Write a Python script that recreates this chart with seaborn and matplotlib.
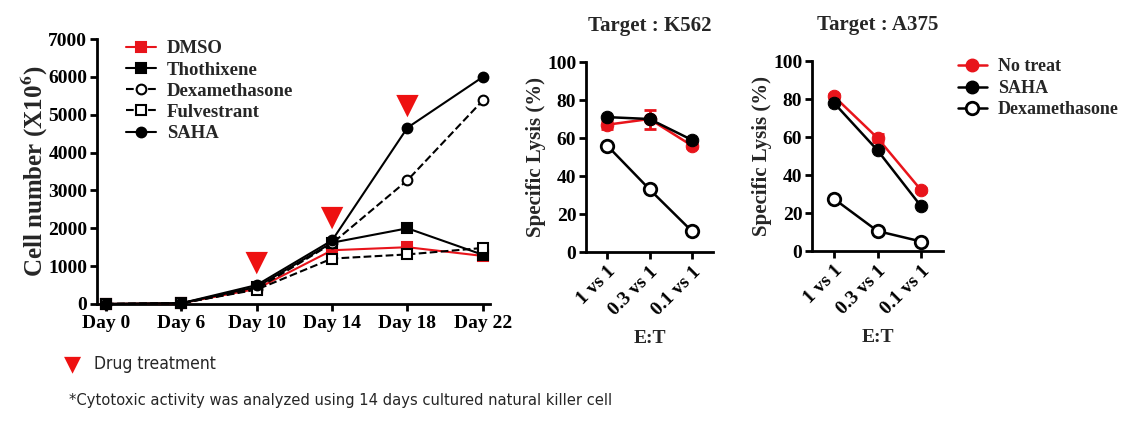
import matplotlib
matplotlib.use("Agg")
import matplotlib.pyplot as plt
import seaborn as sns
import numpy as np
from matplotlib.lines import Line2D

# ---------------- data ----------------
days = ["Day 0", "Day 6", "Day 10", "Day 14", "Day 18", "Day 22"]
dmso = [0, 20, 400, 1420, 1500, 1270]
thothixene = [0, 20, 450, 1620, 2000, 1300]
dexamethasone = [0, 20, 400, 1600, 3270, 5380]
fulvestrant = [0, 20, 380, 1200, 1310, 1480]
saha = [0, 20, 500, 1680, 4660, 6000]
treat_days = ["Day 10", "Day 14", "Day 18"]
treat_marks = [1080, 2270, 5230]

et_ratios = ["1 vs 1", "0.3 vs 1", "0.1 vs 1"]
k562_no_treat = [67, 70, 56]
k562_no_treat_err = [2, 5, 1.5]
k562_saha = [71, 70, 59]
k562_dex = [56, 33, 11]
a375_no_treat = [81.5, 59.5, 32]
a375_no_treat_err = [1, 2, 1]
a375_saha = [78, 53, 23.5]
a375_dex = [27.5, 10.5, 5]

sns.set_theme(style="ticks")
plt.rcParams["font.family"] = ["Liberation Serif", "DejaVu Serif"]
plt.rcParams["font.weight"] = "bold"
plt.rcParams["mathtext.fontset"] = "stix"
plt.rcParams["axes.linewidth"] = 2
plt.rcParams["xtick.major.width"] = 2
plt.rcParams["ytick.major.width"] = 2
plt.rcParams["xtick.major.size"] = 5
plt.rcParams["ytick.major.size"] = 5
plt.rcParams["xtick.major.pad"] = 3
plt.rcParams["ytick.major.pad"] = 2
plt.rcParams["xtick.color"] = "black"
plt.rcParams["ytick.color"] = "black"
plt.rcParams["axes.edgecolor"] = "black"

fig = plt.figure(figsize=(11.25, 4.21), dpi=100)

# ---------------- left panel ----------------
ax1 = fig.add_axes([0.0862, 0.278, 0.349, 0.629])
xi = np.arange(len(days))
series = [
    ("DMSO", dmso, dict(color="#e8141b", marker="s", ls="-", mfc="#e8141b")),
    ("Thothixene", thothixene, dict(color="black", marker="s", ls="-", mfc="black")),
    ("Dexamethasone", dexamethasone, dict(color="black", marker="o", ls="--", mfc="white")),
    ("Fulvestrant", fulvestrant, dict(color="black", marker="s", ls="--", mfc="white")),
    ("SAHA", saha, dict(color="black", marker="o", ls="-", mfc="black")),
]
handles = []
for name, vals, st in series:
    sns.lineplot(x=xi, y=vals, ax=ax1, color=st["color"], marker=st["marker"],
                 linestyle=st["ls"], markerfacecolor=st["mfc"], markeredgecolor=st["color"],
                 markersize=7, markeredgewidth=1.5, linewidth=1.5, clip_on=False, zorder=3)
    handles.append(Line2D([0], [0], color=st["color"], marker=st["marker"], linestyle=st["ls"],
                          markerfacecolor=st["mfc"], markeredgecolor=st["color"],
                          markersize=7, markeredgewidth=1.5, linewidth=1.5))
tx = [days.index(d) for d in treat_days]
sns.scatterplot(x=tx, y=treat_marks, ax=ax1, marker="v", color="#ee1111", s=260,
                edgecolor="none", zorder=4)
ax1.set_xlim(-0.12, 5.09)
ax1.set_ylim(0, 7000)
ax1.set_yticks(range(0, 7001, 1000))
ax1.set_xticks(xi)
ax1.set_xticklabels(days)
ax1.tick_params(labelsize=14)
for lab in ax1.get_xticklabels() + ax1.get_yticklabels():
    lab.set_fontweight("bold")
ax1.set_ylabel(r"Cell number (X10$^{\mathbf{6}}$)", fontsize=18, fontweight="bold", labelpad=-1)
ax1.set_xlabel("")
sns.despine(ax=ax1)
ax1.legend(handles, [s[0] for s in series], loc="upper left", bbox_to_anchor=(0.03, 1.06),
           frameon=False, prop={"weight": "bold", "size": 13.5, "family": "Liberation Serif"},
           handlelength=1.6, labelspacing=0.22, handletextpad=0.6)

# ---------------- right panels ----------------
def lysis_panel(ax, title, nt, nt_err, sh, dx):
    xp = np.arange(len(et_ratios))
    sns.lineplot(x=xp, y=nt, ax=ax, color="#e8141b", marker="o", markersize=9,
                 markeredgecolor="#e8141b", linewidth=1.8, clip_on=False, zorder=3)
    ax.errorbar(xp, nt, yerr=nt_err, fmt="none", ecolor="#e8141b", elinewidth=2, capsize=4,
                capthick=2, zorder=3)
    sns.lineplot(x=xp, y=sh, ax=ax, color="black", marker="o", markersize=9,
                 markeredgecolor="black", linewidth=1.8, clip_on=False, zorder=4)
    sns.lineplot(x=xp, y=dx, ax=ax, color="black", marker="o", markersize=9,
                 markerfacecolor="white", markeredgecolor="black", markeredgewidth=2,
                 linewidth=1.8, clip_on=False, zorder=4)
    ax.set_xlim(-0.5, 2.5)
    ax.set_ylim(0, 100)
    ax.set_yticks([0, 20, 40, 60, 80, 100])
    ax.set_xticks(xp)
    ax.set_xticklabels(et_ratios, rotation=45, ha="right", rotation_mode="anchor")
    ax.tick_params(labelsize=14)
    for lab in ax.get_xticklabels() + ax.get_yticklabels():
        lab.set_fontweight("bold")
    ax.set_ylabel("Specific Lysis (%)", fontsize=15, fontweight="bold", labelpad=1)
    ax.set_xlabel("E:T", fontsize=14, fontweight="bold", labelpad=8)
    ax.set_title(title, fontsize=15, fontweight="bold", pad=22)
    sns.despine(ax=ax)

ax2 = fig.add_axes([0.5209, 0.4014, 0.1129, 0.4513])
lysis_panel(ax2, "Target : K562", k562_no_treat, k562_no_treat_err, k562_saha, k562_dex)
ax3 = fig.add_axes([0.7218, 0.4038, 0.1164, 0.4513])
lysis_panel(ax3, "Target : A375", a375_no_treat, a375_no_treat_err, a375_saha, a375_dex)

h2 = [
    Line2D([0], [0], color="#e8141b", marker="o", markersize=9, linewidth=1.8),
    Line2D([0], [0], color="black", marker="o", markersize=9, linewidth=1.8),
    Line2D([0], [0], color="black", marker="o", markersize=9, markerfacecolor="white",
           markeredgewidth=2, linewidth=1.8),
]
fig.legend(h2, ["No treat", "SAHA", "Dexamethasone"], loc="upper left",
           bbox_to_anchor=(0.837, 0.9), frameon=False,
           prop={"weight": "bold", "size": 13, "family": "Liberation Serif"},
           handlelength=1.6, labelspacing=0.25, handletextpad=0.6)

# ---------------- bottom notes ----------------
fig.text(0.064, 1 - 364 / 421, "\u25BC", color="#ee1111", fontsize=16, va="center",
         ha="center", family=["DejaVu Sans"])
fig.text(0.084, 1 - 364 / 421, "Drug treatment", fontsize=12.5, va="center",
         family=["DejaVu Sans"], fontstretch="condensed", fontweight="normal")
fig.text(0.061, 1 - 400 / 421, "*Cytotoxic activity was analyzed using 14 days cultured natural killer cell",
         fontsize=11.8, va="center", family=["DejaVu Sans"], fontstretch="condensed",
         fontweight="normal")

fig.savefig("out.png", dpi=100)
